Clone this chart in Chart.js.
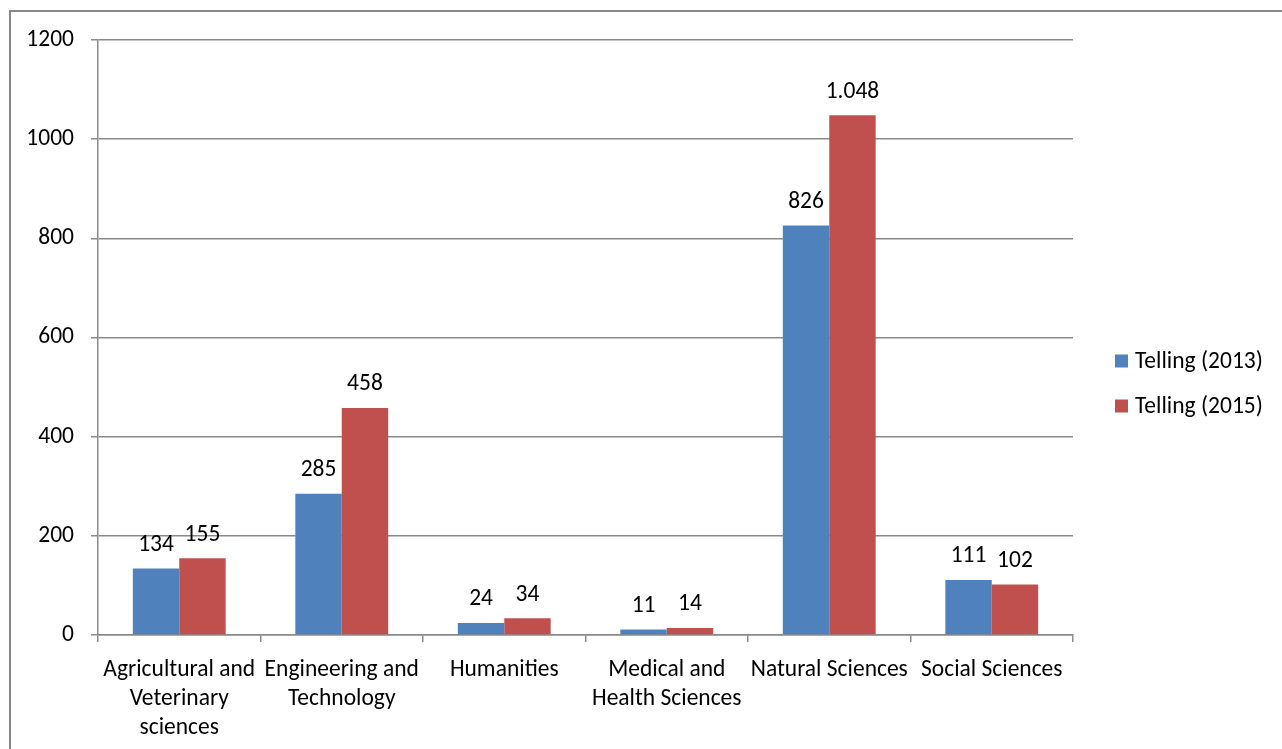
<!DOCTYPE html>
<html>
<head>
<meta charset="utf-8">
<script src="https://cdn.jsdelivr.net/npm/chart.js@4/dist/chart.umd.min.js"></script>
<style>
  html, body { margin: 0; padding: 0; background: #fff; overflow: hidden; }
  #wrap { position: absolute; left: 0; top: 0; width: 1282px; height: 749px; }
  #frame { position: absolute; left: 9px; top: 10px; width: 2000px; height: 2000px; border: 2px solid #878787; box-sizing: border-box; pointer-events: none; }
  canvas { position: absolute; left: 0; top: 0; }
</style>
</head>
<body>
<div id="wrap">
  <canvas id="c" width="1282" height="749"></canvas>
  <div id="frame"></div>
</div>
<script>
const categories = [
  ["Agricultural and", "Veterinary", "sciences"],
  ["Engineering and", "Technology"],
  ["Humanities"],
  ["Medical and", "Health Sciences"],
  ["Natural Sciences"],
  ["Social Sciences"]
];
const seriesNames = ["Telling (2013)", "Telling (2015)"];
const values2013 = [134, 285, 24, 11, 826, 111];
const values2015 = [155, 458, 34, 14, 1048, 102];
const yTicks = [0, 200, 400, 600, 800, 1000, 1200];

const FONT = "Carlito, Lato, 'Open Sans', sans-serif";
const BLUE = "#4F81BD";
const RED = "#C0504D";
const GRID = "#8A8A8A";

function fmt(v) {
  return String(v).replace(/\B(?=(\d{3})+(?!\d))/g, ".");
}

const labelPlugin = {
  id: "valueLabels",
  afterDatasetsDraw(chart) {
    const ctx = chart.ctx;
    ctx.save();
    ctx.fillStyle = "#000";
    ctx.font = "23.5px " + FONT;
    ctx.textAlign = "center";
    ctx.textBaseline = "middle";
    chart.data.datasets.forEach((ds, di) => {
      const meta = chart.getDatasetMeta(di);
      meta.data.forEach((bar, i) => {
        ctx.fillText(fmt(ds.data[i]), bar.x, bar.y - 23.5);
      });
    });
    ctx.restore();
  }
};

const legendPlugin = {
  id: "sideLegend",
  afterDraw(chart) {
    const ctx = chart.ctx;
    ctx.save();
    ctx.font = "23.5px " + FONT;
    ctx.textBaseline = "middle";
    ctx.textAlign = "left";
    chart.data.datasets.forEach((ds, i) => {
      const cy = 361 + i * 45;
      ctx.fillStyle = ds.backgroundColor;
      ctx.fillRect(1115, cy - 6.5, 13, 13);
      ctx.fillStyle = "#000";
      ctx.fillText(ds.label, 1135, cy + 1);
    });
    ctx.restore();
  }
};

new Chart(document.getElementById("c"), {
  type: "bar",
  data: {
    labels: categories,
    datasets: [
      { label: seriesNames[0], data: values2013, backgroundColor: BLUE, borderWidth: 0 },
      { label: seriesNames[1], data: values2015, backgroundColor: RED, borderWidth: 0 }
    ]
  },
  options: {
    responsive: false,
    animation: false,
    devicePixelRatio: 1,
    categoryPercentage: 0.5714,
    barPercentage: 1.0,
    layout: { padding: { left: 0, right: 209, top: 40, bottom: 0 } },
    plugins: {
      legend: { display: false },
      tooltip: { enabled: false }
    },
    scales: {
      x: {
        offset: true,
        grid: { offset: true, drawOnChartArea: false, drawTicks: true, tickLength: 7, color: GRID, lineWidth: 1.5 },
        border: { display: true, color: GRID, width: 1.5 },
        ticks: { color: "#000", font: { family: FONT, size: 23.5, lineHeight: 1.22 }, padding: 14, maxRotation: 0, autoSkip: false },
        afterFit(s) { s.height = 114; }
      },
      y: {
        min: 0,
        max: 1200,
        afterBuildTicks(s) { s.ticks = yTicks.map(v => ({ value: v })); },
        grid: { color: GRID, lineWidth: 1.5, drawTicks: true, tickLength: 7 },
        border: { display: true, color: GRID, width: 1.5 },
        ticks: { color: "#000", font: { family: FONT, size: 23.5 }, padding: 17, callback: (v) => String(v) },
        afterFit(s) { s.width = 98; }
      }
    }
  },
  plugins: [labelPlugin, legendPlugin]
});
</script>
</body>
</html>
